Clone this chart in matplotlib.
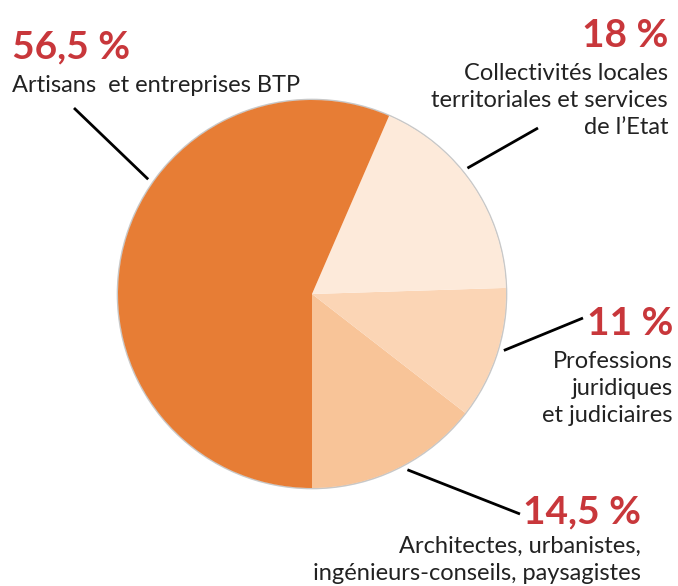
import numpy as np
import matplotlib.pyplot as plt

# pie data, in drawing order (counterclockwise from the bottom)
shares = [14.5, 11, 18, 56.5]
pct_labels = ["14,5 %", "11 %", "18 %", "56,5 %"]
names = ["Architectes, urbanistes,\ningénieurs-conseils, paysagistes",
         "Professions\njuridiques\net judiciaires",
         "Collectivités locales\nterritoriales et services\nde l\u2019Etat",
         "Artisans  et entreprises BTP"]
colors = ["#F8C498", "#FBD5B5", "#FDEADA", "#E77D35"]

red = "#C8373B"
W, H = 678, 586
cx, cy, R = 312, 292, 194

fig = plt.figure(figsize=(W / 100, H / 100), dpi=100)
ax = fig.add_axes([0, 0, 1, 1])

wedges, _ = ax.pie(shares, colors=colors, startangle=-90, counterclock=True,
                   center=(cx, cy), radius=R, frame=True,
                   wedgeprops=dict(linewidth=0))
# soft grey rim
rim = plt.Circle((cx, cy), R + 0.5, fill=False, ec="#C8C8C8", lw=1.2, zorder=0.5)
ax.add_patch(rim)
ax.set_xlim(0, W)
ax.set_ylim(0, H)
ax.set_aspect("equal")
ax.axis("off")

font = ["Lato", "DejaVu Sans"]
line_gap = 27

# label layout: x, baseline of percent, baseline of first name line, ha,
# angle of leader start on the pie, leader end
layout = [
    (641, 63, 33, "right", -61.5, (520, 72)),
    (673, 251, 218, "right", -16.4, (583, 268)),
    (668, 539, 506, "right", 39, (538, 458)),
    (12, 528, 494, "left", 145, (74, 478)),
]

for pct, name, (x, yp, yn, ha, ang, end) in zip(pct_labels, names, layout):
    ax.text(x, yp, pct, ha=ha, va="baseline", color=red, fontsize=28,
            fontweight="bold", family=font)
    for i, line in enumerate(name.split("\n")):
        ax.text(x, yn - i * line_gap, line, ha=ha, va="baseline",
                color="#222222", fontsize=17, family=font)
    a = np.deg2rad(ang)
    r0 = R + 6
    ax.plot([cx + r0 * np.cos(a), end[0]], [cy + r0 * np.sin(a), end[1]],
            color="black", lw=2, solid_capstyle="butt")

fig.savefig("out.png", dpi=100)
